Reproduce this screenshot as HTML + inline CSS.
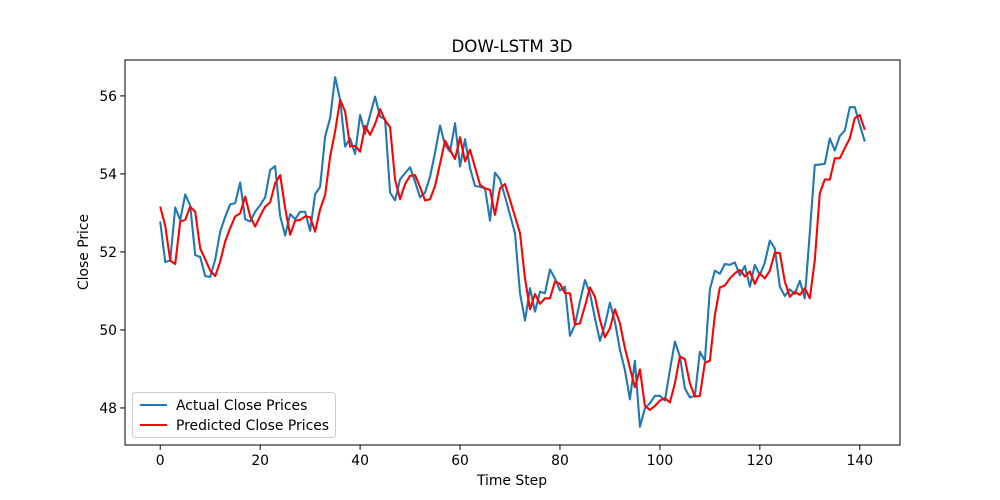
<!DOCTYPE html>
<html><head><meta charset="utf-8"><style>
body{margin:0;background:#fff}
svg{display:block;font-family:"DejaVu Sans","Liberation Sans",sans-serif}
</style></head><body>
<svg id="chart" width="1000" height="500">
<rect width="1000" height="500" fill="#fff"/>
<text x="512" y="52" text-anchor="middle" font-size="16.7">DOW-LSTM 3D</text>
<g id="grid"></g>
<g id="series"></g>
<rect x="125" y="60" width="775" height="385" fill="none" stroke="#000" stroke-width="1"/>
<g id="axes"></g>
<text x="512" y="485" text-anchor="middle" font-size="13.9">Time Step</text>
<text transform="translate(88,252) rotate(-90)" text-anchor="middle" font-size="13.9">Close Price</text>
<g>
<rect x="132.5" y="392.5" width="203" height="45" rx="3" fill="#fff" fill-opacity="0.8" stroke="#ccc"/>
<line x1="140" y1="405" x2="167" y2="405" stroke="#1f77b4" stroke-width="2.08"/>
<text x="176" y="410" font-size="13.9">Actual Close Prices</text>
<line x1="140" y1="425" x2="167" y2="425" stroke="red" stroke-width="2.08"/>
<text x="176" y="430" font-size="13.9">Predicted Close Prices</text>
</g>
</svg>
<script>
const xTicks=[0,20,40,60,80,100,120,140];
const yTicks=[48,50,52,54,56];
const actual=[52.78,51.74,51.78,53.14,52.82,53.47,53.19,51.92,51.87,51.38,51.36,51.8,52.52,52.9,53.22,53.25,53.78,52.84,52.78,53.03,53.2,53.4,54.1,54.2,52.92,52.42,52.97,52.84,53.03,53.03,52.54,53.48,53.67,54.96,55.43,56.48,55.9,
54.70,54.91,54.51,55.51,55.03,55.51,55.98,55.47,55.40,53.52,53.32,53.86,54.02,54.17,53.8,53.40,53.52,53.93,54.55,55.24,54.74,54.57,55.30,54.19,54.89,54.15,53.69,53.67,53.63,52.8,54.03,53.86,53.42,52.95,52.48,50.94,50.24,51.07,50.47,
50.98,50.94,51.55,51.32,51.01,51.11,49.85,50.13,50.73,51.28,50.94,50.30,49.72,50.13,50.7,50.21,49.49,48.97,48.22,49.21,47.52,47.99,48.12,48.31,48.31,48.19,48.97,49.70,49.32,48.50,48.27,48.31,49.44,49.21,
51.04,51.52,51.44,51.69,51.67,51.73,51.4,51.64,51.11,51.67,51.41,51.73,52.29,52.09,51.11,50.87,51.04,50.92,51.26,50.81,52.5,54.23,54.24,54.26,54.91,54.6,54.97,55.11,55.71,55.71,55.26,54.83];
const predicted=[53.16,52.67,51.78,51.69,52.78,52.82,53.16,53.03,52.09,51.81,51.52,51.38,51.75,52.27,52.61,52.91,52.99,53.42,52.91,52.65,52.92,53.16,53.27,53.76,53.97,53.12,52.44,52.8,52.82,52.91,52.89,52.52,53.09,53.46,54.44,55.09,55.9,
55.6,54.70,54.72,54.57,55.23,55.0,55.28,55.66,55.37,55.2,53.85,53.35,53.74,53.95,53.97,53.66,53.32,53.35,53.69,54.26,54.85,54.62,54.38,54.94,54.32,54.62,54.17,53.72,53.63,53.59,52.95,53.63,53.74,53.33,52.91,52.48,51.32,
50.53,50.92,50.67,50.81,50.81,51.24,51.18,50.94,50.94,50.14,50.17,50.61,51.09,50.85,50.26,49.81,50.04,50.53,50.17,49.53,49.02,48.53,48.99,48.05,47.95,48.05,48.19,48.25,48.14,48.63,49.32,49.25,48.63,48.29,48.31,49.16,49.21,
50.38,51.09,51.14,51.32,51.45,51.54,51.37,51.5,51.18,51.45,51.32,51.52,51.98,51.97,51.24,50.85,50.98,50.9,51.07,50.81,51.79,53.5,53.86,53.85,54.4,54.4,54.66,54.91,55.43,55.51,55.13];
const NS='http://www.w3.org/2000/svg';
const X0=125,X1=900,Y0=445,Y1=60;
const xmin=-7.05,xmax=148.05,ymin=47.05,ymax=56.92;
function xs(v){return X0+(v-xmin)/(xmax-xmin)*(X1-X0);}
function ys(v){return Y0-(v-ymin)/(ymax-ymin)*(Y0-Y1);}
const axes=document.getElementById('axes');
xTicks.forEach(t=>{
 const l=document.createElementNS(NS,'line');
 l.setAttribute('x1',xs(t));l.setAttribute('x2',xs(t));l.setAttribute('y1',Y0);l.setAttribute('y2',Y0+4.9);l.setAttribute('stroke','#000');
 
 
 axes.appendChild(l);
 const tx=document.createElementNS(NS,'text');
 tx.setAttribute('x',xs(t));tx.setAttribute('y',Y0+20);tx.setAttribute('text-anchor','middle');tx.setAttribute('font-size','13.9');
 tx.textContent=t;
 
 
 axes.appendChild(tx);
});
yTicks.forEach(t=>{
 const l=document.createElementNS(NS,'line');
 l.setAttribute('x1',X0-4.9);l.setAttribute('x2',X0);l.setAttribute('y1',ys(t));l.setAttribute('y2',ys(t));l.setAttribute('stroke','#000');
 
 
 axes.appendChild(l);
 const tx=document.createElementNS(NS,'text');
 tx.setAttribute('x',X0-8);tx.setAttribute('y',ys(t)+5);tx.setAttribute('text-anchor','end');tx.setAttribute('font-size','13.9');
 tx.textContent=t;
 
 
 axes.appendChild(tx);
});
const series=document.getElementById('series');
function draw(arr,color,name){
 const p=document.createElementNS(NS,'polyline');
 p.setAttribute('points',arr.map((v,i)=>xs(i).toFixed(2)+','+ys(v).toFixed(2)).join(' '));
 p.setAttribute('fill','none');p.setAttribute('stroke',color);p.setAttribute('stroke-width','2.08');p.setAttribute('stroke-linejoin','round');
 
 
 series.appendChild(p);
}
draw(actual,'#1f77b4','actual-close-line');
draw(predicted,'red','predicted-close-line');
</script>
</body></html>
